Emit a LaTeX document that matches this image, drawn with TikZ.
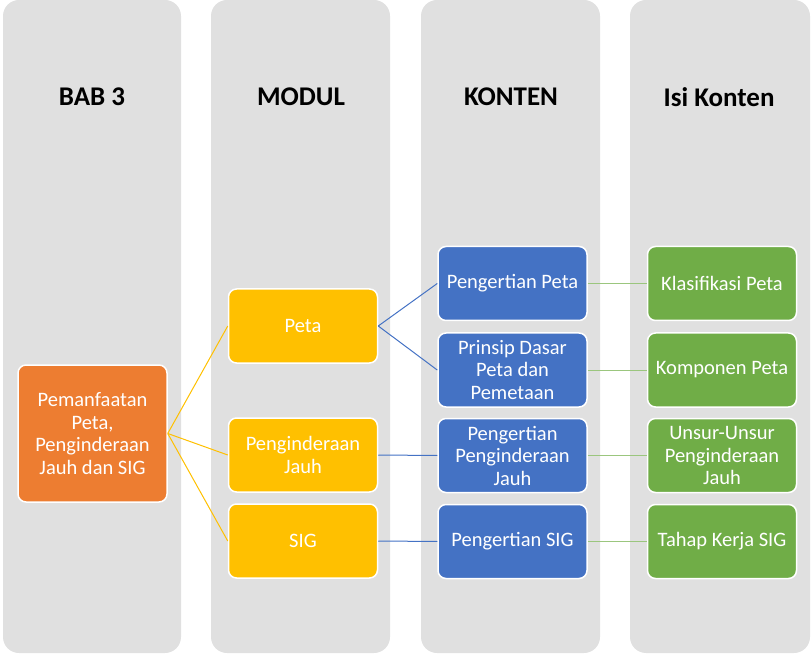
\documentclass[tikz,border=0pt]{standalone}
\usepackage{fontspec}
\setmainfont{Carlito}
\usepackage{tikz}

\definecolor{panelgray}{HTML}{E0E0E0}
\definecolor{babor}{HTML}{ED7D31}
\definecolor{modyel}{HTML}{FFC000}
\definecolor{konblue}{HTML}{4472C4}
\definecolor{isigreen}{HTML}{70AD47}

\tikzset{
  panel/.style={fill=panelgray, rounded corners=16pt},
  head/.style={font=\fontsize{27}{31}\selectfont\bfseries, text=black},
  box/.style={draw=white, line width=1.5pt, rounded corners=8pt, minimum width=149pt, minimum height=74pt,
    align=center, text=white, font=\fontsize{20.5}{22.5}\selectfont, inner sep=2pt},
  link/.style={line width=1pt}
}

\begin{document}
\begin{tikzpicture}[x=1pt, y=-1pt]
	\useasboundingbox (0, 0) rectangle (812, 655);
	
	\fill [panel] (3, 0) rectangle (181, 653); % Kolom
	\fill [panel] (211, 0) rectangle (390, 653);
	\fill [panel] (421, 0) rectangle (600, 653);
	\fill [panel] (630, 0) rectangle (810, 653);
	
	\node [head] (hbab) at (92, 97) {BAB 3}; % Judul kolom
	\node [head] (hmodul) at (301, 97) {MODUL};
	\node [head] (hkonten) at (511, 97) {KONTEN};
	\node [head] (hisi) at (719, 97) {Isi Konten};
	
	\node [box, fill=babor, minimum height=137pt] (bab) at (92.5, 433.5) {Pemanfaatan\\Peta,\\Penginderaan\\Jauh dan SIG}; % Bab
	
	\node [box, fill=modyel] (peta) at (303, 326) {Peta}; % Modul
	\node [box, fill=modyel] (pj) at (303, 455) {Penginderaan\\Jauh};
	\node [box, fill=modyel] (sig) at (303, 541) {SIG};
	
	\node [box, fill=konblue] (kpeta) at (512.5, 283.5) {Pengertian Peta}; % Konten
	\node [box, fill=konblue] (kprinsip) at (512.5, 370) {Prinsip Dasar\\Peta dan\\Pemetaan};
	\node [box, fill=konblue] (kpj) at (512.5, 455.5) {Pengertian\\Penginderaan\\Jauh};
	\node [box, fill=konblue] (ksig) at (512.5, 541.5) {Pengertian SIG};
	
	\node [box, fill=isigreen] (iklas) at (722, 283.5) {Klasifikasi Peta}; % Isi konten
	\node [box, fill=isigreen] (ikomp) at (722, 370) {Komponen Peta};
	\node [box, fill=isigreen] (iunsur) at (722, 455.5) {Unsur-Unsur\\Penginderaan\\Jauh};
	\node [box, fill=isigreen] (itahap) at (722, 541.5) {Tahap Kerja SIG};
	
	\draw [link, modyel] (bab.east) -- (peta.west); % Garis bab ke modul
	\draw [link, modyel] (bab.east) -- (pj.west);
	\draw [link, modyel] (bab.east) -- (sig.west);
	
	\draw [link, konblue] (peta.east) -- (kpeta.west); % Garis modul ke konten
	\draw [link, konblue] (peta.east) -- (kprinsip.west);
	\draw [link, konblue] (pj.east) -- (kpj.west);
	\draw [link, konblue] (sig.east) -- (ksig.west);
	
	\draw [link, isigreen!70] (kpeta.east) -- (iklas.west); % Garis konten ke isi
	\draw [link, isigreen!70] (kprinsip.east) -- (ikomp.west);
	\draw [link, isigreen!70] (kpj.east) -- (iunsur.west);
	\draw [link, isigreen!70] (ksig.east) -- (itahap.west);
\end{tikzpicture}
\end{document}
